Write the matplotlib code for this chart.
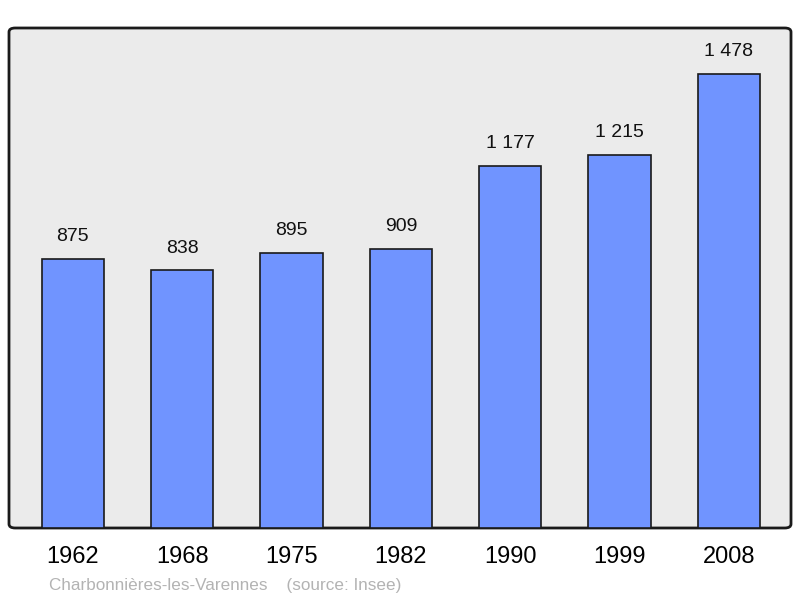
import matplotlib.pyplot as plt
from matplotlib.patches import FancyBboxPatch

years = ['1962', '1968', '1975', '1982', '1990', '1999', '2008']
population = [875, 838, 895, 909, 1177, 1215, 1478]
labels = ['875', '838', '895', '909', '1 177', '1 215', '1 478']

plt.rcParams['font.family'] = ['Liberation Sans', 'DejaVu Sans']

fig = plt.figure(figsize=(8, 5.98), dpi=100)
ax = fig.add_axes([9 / 800, 1 - 528 / 598, 782 / 800, 500 / 598])
ax.set_facecolor('none')

# background frame with rounded corners
frame = FancyBboxPatch((0, 0), 1, 1, boxstyle='round,pad=0,rounding_size=0.008',
                       transform=ax.transAxes, facecolor='#ebebeb',
                       edgecolor='#1a1a1a', linewidth=2, zorder=0, clip_on=False)
ax.add_patch(frame)

x = range(len(years))
ax.bar(x, population, width=0.57, color='#7094ff', edgecolor='#1a1a1a',
       linewidth=1.2, zorder=2)

for xi, v, lab in zip(x, population, labels):
    ax.annotate(lab, (xi, v), xytext=(0, 10), textcoords='offset points',
                ha='center', va='bottom', fontsize=14, color='#111111')

ax.set_xlim(-0.585, 6.57)
ax.set_ylim(0, 1627)
ax.set_xticks(list(x))
ax.set_xticklabels(years, fontsize=17)
ax.tick_params(axis='x', length=0, pad=13)
ax.set_yticks([])
for s in ax.spines.values():
    s.set_visible(False)

fig.text(49 / 800, 1 - 590 / 598, 'Charbonnières-les-Varennes    (source: Insee)',
         fontsize=12.3, color='#b3b3b3', ha='left', va='baseline')

fig.savefig('out.png', dpi=100)
